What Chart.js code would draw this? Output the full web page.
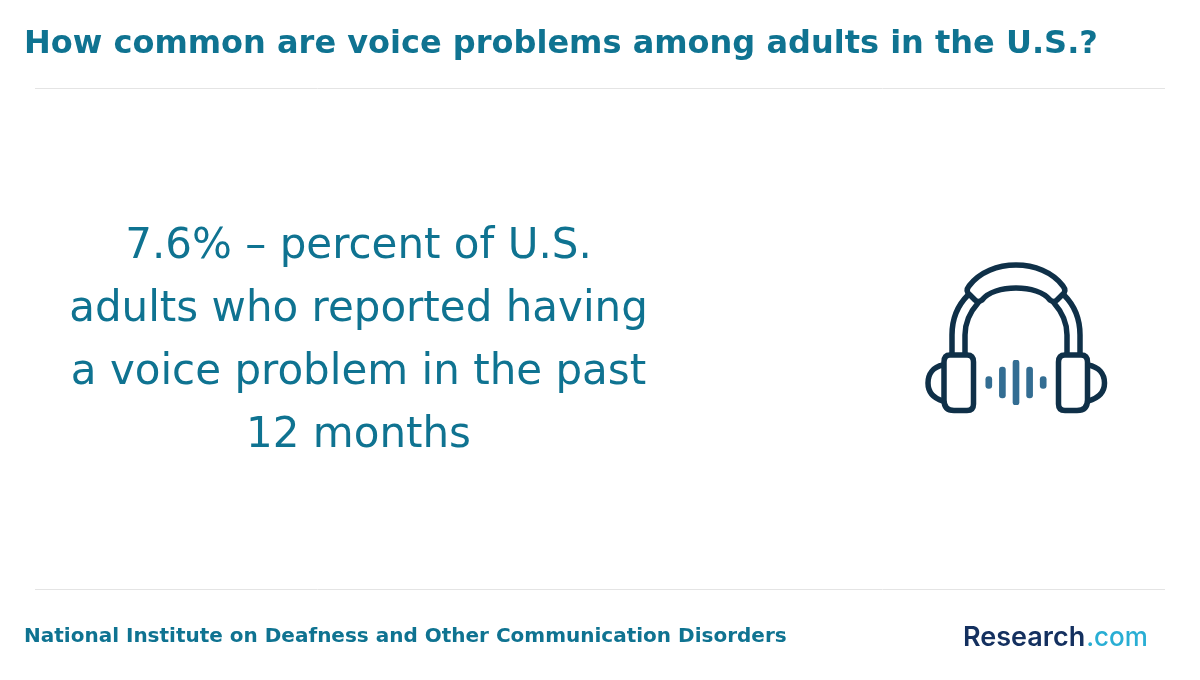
<!DOCTYPE html>
<html>
<head>
<meta charset="utf-8">
<title>Voice problems</title>
<style>
  html, body { margin: 0; padding: 0; background: #fff; }
  canvas { display: block; }
</style>
<script src="https://cdn.jsdelivr.net/npm/chart.js@4/dist/chart.umd.min.js"></script>
</head>
<body>
<canvas id="chart" width="1200" height="680"></canvas>
<script>
const titleText = "How common are voice problems among adults in the U.S.?";
const statLines = [
  "7.6% – percent of U.S.",
  "adults who reported having",
  "a voice problem in the past",
  "12 months"
];
const sourceText = "National Institute on Deafness and Other Communication Disorders";
const logoWord = "Research";
const logoEnd = ".com";

// sound wave inside the headphones
const waveLabels = ["w1", "w2", "w3", "w4", "w5"];
const waveLevels = [12, 31, 45, 31, 12];

const teal = "#0f7391";
const navy = "#0f3048";

const headphones = [
  // pad
  "M969 286 C990 258 1042 258 1063 286 Q1067 291 1062 295 L1057 300 Q1054 303 1050 300 C1038 284 994 284 982 300 Q978 303 975 300 L970 295 Q965 291 969 286 Z",
  // outer and inner band
  "M952 354 L952 335 C952 318 958 305 968 295",
  "M965 354 L965 335 C965 322 970 312 978 303",
  "M1080 354 L1080 335 C1080 318 1074 305 1064 295",
  "M1067 354 L1067 335 C1067 322 1062 312 1054 303",
  // cups
  "M950 355 L967 355 Q973.5 355 973.5 362 L973.5 404 Q973.5 410.5 967 410.5 L954 410.5 Q944 410.5 944 400 L944 362 Q944 355 950 355 Z",
  "M1065 355 L1081 355 Q1087.5 355 1087.5 362 L1087.5 400 Q1087.5 410.5 1077 410.5 L1065 410.5 Q1058.5 410.5 1058.5 404 L1058.5 362 Q1058.5 355 1065 355 Z",
  // ear pieces
  "M943 365 C933 367 928 374 928 383 C928 392 933 398 943 401",
  "M1088 365 C1099 367 1104.5 374 1104.5 383 C1104.5 392 1099 398 1088 401"
];

const pagePlugin = {
  id: "page",
  beforeDraw(chart) {
    const c = chart.ctx;
    c.save();

    c.strokeStyle = "#e4e4e4";
    c.lineWidth = 1;
    c.beginPath();
    c.moveTo(35, 88.5); c.lineTo(1165, 88.5);
    c.moveTo(35, 589.5); c.lineTo(1165, 589.5);
    c.stroke();

    c.fillStyle = teal;
    c.textBaseline = "alphabetic";
    c.textAlign = "left";
    c.font = "bold 32px 'DejaVu Sans'";
    c.fillText(titleText, 24, 53);
    c.font = "bold 20px 'DejaVu Sans'";
    c.fillText(sourceText, 24, 642);

    c.textAlign = "center";
    c.font = "42px 'DejaVu Sans'";
    statLines.forEach((line, i) => c.fillText(line, 358.5, 258 + i * 63));

    // logo
    c.textAlign = "left";
    c.font = "600 27px Inter";
    c.fillStyle = "#14305f";
    c.fillText(logoWord, 963, 646);
    const w = c.measureText(logoWord).width;
    c.font = "500 26px Inter";
    c.fillStyle = "#29aed4";
    c.fillText(logoEnd, 964 + w, 646);

    // icon
    c.strokeStyle = navy;
    c.lineWidth = 5.5;
    c.lineJoin = "round";
    c.lineCap = "round";
    headphones.forEach(d => c.stroke(new Path2D(d)));

    c.restore();
  }
};

const chart = new Chart(document.getElementById("chart"), {
  type: "bar",
  data: {
    labels: waveLabels,
    datasets: [{
      data: waveLevels.map(h => [-h / 2, h / 2]),
      backgroundColor: "#336d92",
      barThickness: 6,
      borderRadius: 3,
      borderSkipped: false
    }]
  },
  options: {
    responsive: false,
    animation: false,
    // chart area is just the wave in the middle of the icon
    layout: { padding: { left: 982, right: 150, top: 360, bottom: 275 } },
    plugins: { legend: { display: false }, tooltip: { enabled: false } },
    scales: {
      x: { display: false },
      y: { display: false, min: -22.5, max: 22.5 }
    }
  },
  plugins: [pagePlugin]
});
</script>
</body>
</html>
